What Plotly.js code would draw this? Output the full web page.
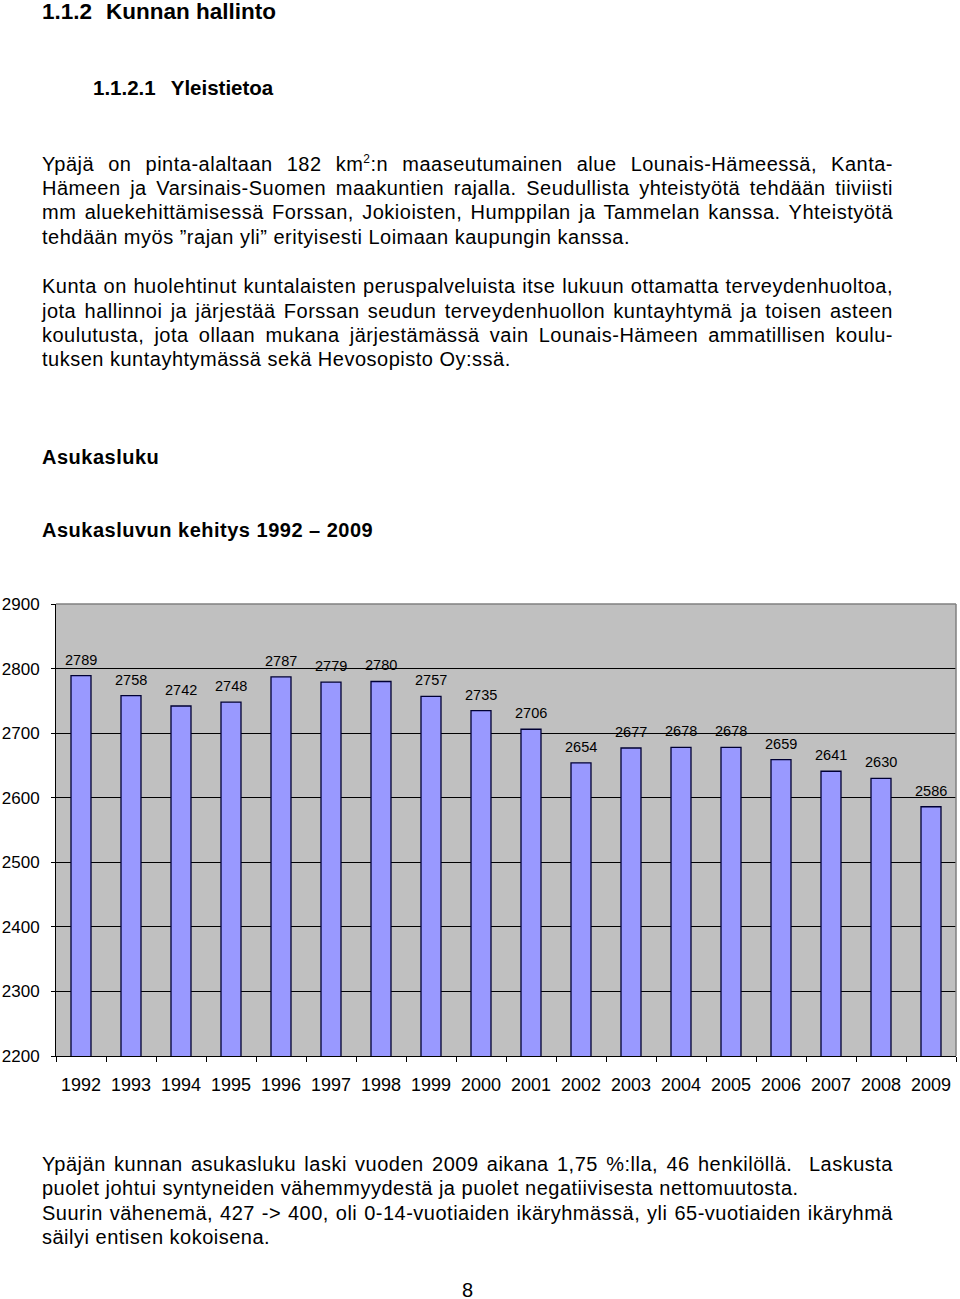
<!DOCTYPE html>
<html>
<head>
<meta charset="utf-8">
<script src="https://cdn.plot.ly/plotly-3.0.1.min.js"></script>
<style>
  body { margin: 0; background: #fff; }
  #page { position: relative; width: 960px; height: 1299px; font-family: "Liberation Sans", Arial, sans-serif; color: #000; }
  .ln { position: absolute; left: 42px; width: 851px; height: 24px; line-height: 24px; font-size: 20px; letter-spacing: 0.5px; white-space: nowrap; }
  .j { text-align: justify; text-align-last: justify; white-space: normal; }
  .b { font-weight: bold; }
  .h1 { font-size: 22.5px; letter-spacing: 0; }
  .h2 { font-size: 20.5px; letter-spacing: 0; }
  sup { font-size: 12px; line-height: 0; vertical-align: 8px; }
  #plot { position: absolute; left: 0; top: 590px; width: 960px; height: 520px; }
</style>
</head>
<body>
<div id="page">
  <div class="ln b h1" style="top:0px;">1.1.2<span style="margin-left:14px">Kunnan hallinto</span></div>
  <div class="ln b h2" style="top:76px; left:93px;">1.1.2.1<span style="margin-left:15px">Yleistietoa</span></div>

  <div class="ln j" style="top:152px;">Ypäjä on pinta-alaltaan 182 km<sup>2</sup>:n maaseutumainen alue Lounais-Hämeessä, Kanta-</div>
  <div class="ln j" style="top:176px;">Hämeen ja Varsinais-Suomen maakuntien rajalla. Seudullista yhteistyötä tehdään tiiviisti</div>
  <div class="ln j" style="top:200px;">mm aluekehittämisessä Forssan, Jokioisten, Humppilan ja Tammelan kanssa. Yhteistyötä</div>
  <div class="ln" style="top:225px;">tehdään myös ”rajan yli” erityisesti Loimaan kaupungin kanssa.</div>

  <div class="ln j" style="top:274px;">Kunta on huolehtinut kuntalaisten peruspalveluista itse lukuun ottamatta terveydenhuoltoa,</div>
  <div class="ln j" style="top:299px;">jota hallinnoi ja järjestää Forssan seudun terveydenhuollon kuntayhtymä ja toisen asteen</div>
  <div class="ln j" style="top:323px;">koulutusta, jota ollaan mukana järjestämässä vain Lounais-Hämeen ammatillisen koulu-</div>
  <div class="ln" style="top:347px;">tuksen kuntayhtymässä sekä Hevosopisto Oy:ssä.</div>

  <div class="ln b" style="top:445px;">Asukasluku</div>
  <div class="ln b" style="top:518px;">Asukasluvun kehitys 1992 – 2009</div>

  <div id="plot"></div>

  <div class="ln j" style="top:1152px;">Ypäjän kunnan asukasluku laski vuoden 2009 aikana 1,75 %:lla, 46 henkilöllä.&nbsp; Laskusta</div>
  <div class="ln" style="top:1176px;">puolet johtui syntyneiden vähemmyydestä ja puolet negatiivisesta nettomuutosta.</div>
  <div class="ln j" style="top:1201px;">Suurin vähenemä, 427 -&gt; 400, oli 0-14-vuotiaiden ikäryhmässä, yli 65-vuotiaiden ikäryhmä</div>
  <div class="ln" style="top:1225px;">säilyi entisen kokoisena.</div>

  <div class="ln" style="top:1278px; left:462px; width:20px;">8</div>
</div>
<script>
const years = ['1992', '1993', '1994', '1995', '1996', '1997', '1998', '1999', '2000',
               '2001', '2002', '2003', '2004', '2005', '2006', '2007', '2008', '2009'];
const population = [2789, 2758, 2742, 2748, 2787, 2779, 2780, 2757, 2735,
                    2706, 2654, 2677, 2678, 2678, 2659, 2641, 2630, 2586];
const yTicks = [2200, 2300, 2400, 2500, 2600, 2700, 2800, 2900];

const fontFam = 'Liberation Sans, Arial, sans-serif';

const trace = {
    type: 'bar',
    x: years,
    y: population,
    marker: {
        color: '#9999ff',
        line: { color: '#000033', width: 1.3 }
    },
    hoverinfo: 'none'
};

// value labels sit a bit above each bar (x given as category index,
// numeric-looking strings would be read as positions)
const labels = population.map((v, i) => ({
    x: i,
    y: v,
    text: String(v),
    showarrow: false,
    yanchor: 'bottom',
    yshift: 6,
    font: { family: fontFam, size: 14.5, color: '#000' }
}));

const layout = {
    width: 960,
    height: 520,
    margin: { l: 56, r: 4, t: 14, b: 54 },
    paper_bgcolor: '#ffffff',
    plot_bgcolor: '#c0c0c0',
    showlegend: false,
    bargap: 0.6,
    xaxis: {
        type: 'category',
        range: [-0.5, years.length - 0.5],
        tickson: 'boundaries',
        ticks: 'outside',
        ticklen: 5,
        tickcolor: '#000',
        showline: true,
        linecolor: '#000',
        linewidth: 1,
        showgrid: false,
        ticklabelstandoff: 12,
        tickfont: { family: fontFam, size: 18, color: '#000' }
    },
    yaxis: {
        range: [2200, 2900],
        tickvals: yTicks,
        ticktext: yTicks.map(String),
        ticks: 'outside',
        ticklen: 4,
        tickcolor: '#000',
        showline: true,
        linecolor: '#000',
        linewidth: 1,
        showgrid: true,
        gridcolor: '#000',
        gridwidth: 1,
        zeroline: false,
        ticklabelstandoff: 8,
        tickfont: { family: fontFam, size: 17, color: '#000' }
    },
    annotations: labels,
    shapes: [
        // grey frame at top and right of the plot area
        { type: 'line', xref: 'paper', yref: 'paper', x0: 0, x1: 1, y0: 1, y1: 1, line: { color: '#808080', width: 1.5 } },
        { type: 'line', xref: 'paper', yref: 'paper', x0: 1, x1: 1, y0: 0, y1: 1, line: { color: '#808080', width: 1.5 } }
    ]
};

Plotly.newPlot('plot', [trace], layout, { staticPlot: true, displayModeBar: false });
</script>
</body>
</html>
